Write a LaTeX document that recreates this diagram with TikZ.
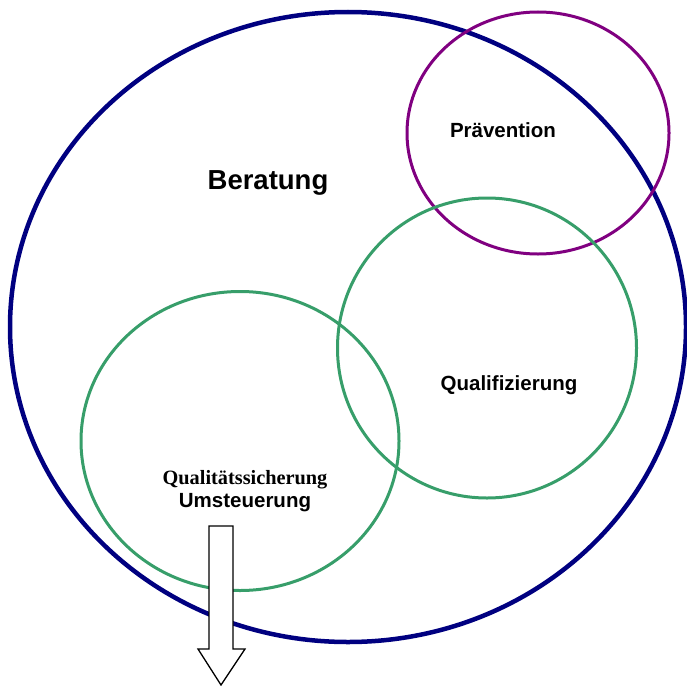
\documentclass[tikz,border=0pt]{standalone}
\usepackage{fontspec}
\setmainfont{Liberation Serif}
\setsansfont{Liberation Sans}
\usetikzlibrary{shapes.geometric}
\definecolor{beratungblue}{RGB}{0,0,128}
\definecolor{praevpurple}{RGB}{128,0,128}
\definecolor{qualgreen}{RGB}{55,158,106}

\begin{document}
\begin{tikzpicture}[x=1pt, y=-1pt,
  area/.style={ellipse, draw, fill=none, inner sep=0pt},
  label/.style={font=\fontsize{20.5}{24}\selectfont\sffamily\bfseries, inner sep=0pt},
  outarrow/.style={draw=black, fill=white, line width=1.3pt, line join=miter}
]
\useasboundingbox (0,0) rectangle (687,685);

% areas
\node[area, draw=beratungblue, line width=4.5pt,
      minimum width=676, minimum height=630] (B) at (348,327) {};
\node[area, draw=praevpurple, line width=3pt,
      minimum width=262, minimum height=242] (P) at (538,133) {};
\node[area, draw=qualgreen, line width=3pt,
      minimum width=299, minimum height=300] (Q) at (487,348) {};
\node[area, draw=qualgreen, line width=3pt,
      minimum width=318, minimum height=299] (S) at (240,441) {};

% texts
\node[label, font=\fontsize{27.5}{32}\selectfont\sffamily\bfseries] (tB) at (268,183) {Beratung};
\node[label] (tP) at (503,130) {Prävention};
\node[label] (tQ) at (509,385) {Qualifizierung};
\node[label, font=\fontsize{20.3}{24}\selectfont\rmfamily\bfseries] (tS) at (245,480) {Qualitätssicherung};
\node[label] (tU) at (245,503) {Umsteuerung};

% way out
\coordinate (tip) at (221,685);
\draw[outarrow] (209,526) -- (233,526) -- (233,649) -- (245,649)
  -- (tip) -- (198,649) -- (209,649) -- cycle;
\end{tikzpicture}
\end{document}
